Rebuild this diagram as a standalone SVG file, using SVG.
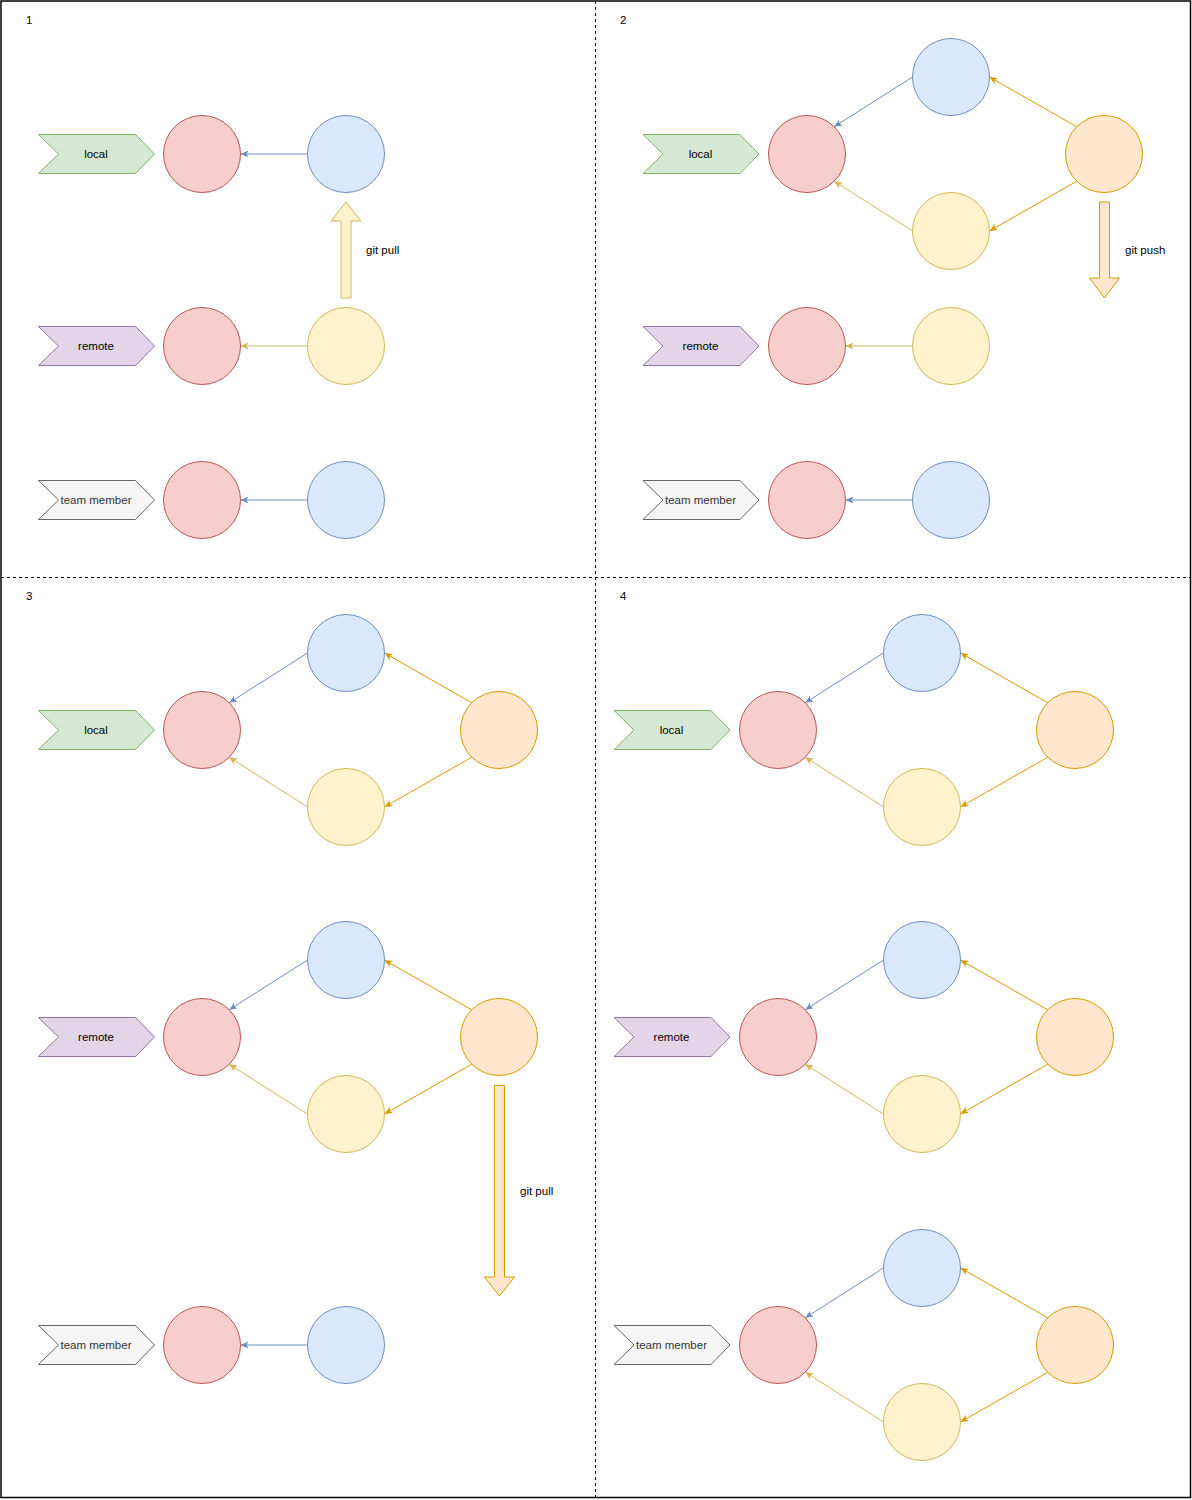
<svg xmlns="http://www.w3.org/2000/svg" width="1192" height="1500" viewBox="0 0 1192 1500">
<style>
text{font-family:"Liberation Sans",Arial,sans-serif;font-size:11.5px;fill:#000}
.lbl{text-anchor:middle}
.tm{fill:#333333}
.red{fill:#f8cecc;stroke:#b85450;stroke-width:1}
.blue{fill:#dae8fc;stroke:#6c8ebf;stroke-width:1}
.yel{fill:#fff2cc;stroke:#d6b656;stroke-width:1}
.org{fill:#ffe6cc;stroke:#d79b00;stroke-width:1}
.grn{fill:#d5e8d4;stroke:#82b366;stroke-width:1}
.pur{fill:#e1d5e7;stroke:#9673a6;stroke-width:1}
.gry{fill:#f5f5f5;stroke:#666666;stroke-width:1}
.eb{fill:none;stroke:#6c8ebf;stroke-width:1;marker-end:url(#mb)}
.eo{fill:none;stroke:#d79b00;stroke-width:1;marker-end:url(#mo)}
.ey{fill:none;stroke:#d6b656;stroke-width:1;marker-end:url(#my)}
.div{stroke:#000;stroke-width:1;stroke-dasharray:3 3;fill:none}
</style>
<defs>
<symbol id="chev" overflow="visible"><polygon points="0,-19.5 97,-19.5 116,0 97,19.5 0,19.5 20,0"/></symbol>
<marker id="mb" markerUnits="userSpaceOnUse" markerWidth="8" markerHeight="7" refX="8" refY="3.5" orient="auto"><path d="M0,0 L8,3.5 L0,7 L2,3.5 z" fill="#6c8ebf"/></marker>
<marker id="mo" markerUnits="userSpaceOnUse" markerWidth="8" markerHeight="7" refX="8" refY="3.5" orient="auto"><path d="M0,0 L8,3.5 L0,7 L2,3.5 z" fill="#d79b00"/></marker>
<marker id="my" markerUnits="userSpaceOnUse" markerWidth="8" markerHeight="7" refX="8" refY="3.5" orient="auto"><path d="M0,0 L8,3.5 L0,7 L2,3.5 z" fill="#d6b656"/></marker>
</defs>
<rect x="0" y="0" width="1192" height="1500" fill="#fff"/>
<g id="frame">
<rect x="1" y="1" width="1189.5" height="1496.5" fill="none" stroke="#000" stroke-width="1.5"/>
<line class="div" x1="595.5" y1="1" x2="595.5" y2="1497"/>
<line class="div" x1="1" y1="577.5" x2="1190" y2="577.5"/>
<text x="26" y="24">1</text>
<text x="620" y="24">2</text>
<text x="26" y="600">3</text>
<text x="620" y="600">4</text>
</g>

<g id="connectors">
<!-- panel 1 -->
<path class="eb" d="M307.5,154 L240.5,154"/>
<path class="ey" d="M307.5,346 L240.5,346"/>
<path class="eb" d="M307.5,500 L240.5,500"/>
<!-- panel 2 -->
<path class="eb" d="M912.5,77 L834.2,126.8"/>
<path class="eo" d="M1076.8,126.8 L989.5,77"/>
<path class="eo" d="M1076.8,181.2 L989.5,231"/>
<path class="ey" d="M912.5,231 L834.2,181.2"/>
<path class="ey" d="M912.5,346 L845.5,346"/>
<path class="eb" d="M912.5,500 L845.5,500"/>
<!-- panel 3 -->
<path class="eb" d="M307.5,653 L229.2,702.8"/>
<path class="eo" d="M471.8,702.8 L384.5,653"/>
<path class="eo" d="M471.8,757.2 L384.5,807"/>
<path class="ey" d="M307.5,807 L229.2,757.2"/>
<path class="eb" d="M307.5,960 L229.2,1009.8"/>
<path class="eo" d="M471.8,1009.8 L384.5,960"/>
<path class="eo" d="M471.8,1064.2 L384.5,1114"/>
<path class="ey" d="M307.5,1114 L229.2,1064.2"/>
<path class="eb" d="M307.5,1345 L240.5,1345"/>
<!-- panel 4 -->
<path class="eb" d="M883.5,653 L805.2,702.8"/>
<path class="eo" d="M1047.8,702.8 L960.5,653"/>
<path class="eo" d="M1047.8,757.2 L960.5,807"/>
<path class="ey" d="M883.5,807 L805.2,757.2"/>
<path class="eb" d="M883.5,960 L805.2,1009.8"/>
<path class="eo" d="M1047.8,1009.8 L960.5,960"/>
<path class="eo" d="M1047.8,1064.2 L960.5,1114"/>
<path class="ey" d="M883.5,1114 L805.2,1064.2"/>
<path class="eb" d="M883.5,1268 L805.2,1317.8"/>
<path class="eo" d="M1047.8,1317.8 L960.5,1268"/>
<path class="eo" d="M1047.8,1372.2 L960.5,1422"/>
<path class="ey" d="M883.5,1422 L805.2,1372.2"/>
</g>

<!-- panel 1 nodes -->
<g id="p1-local-label"><use href="#chev" x="38.5" y="154" class="grn"/><text class="lbl" x="96" y="158">local</text></g>
<g id="p1-remote-label"><use href="#chev" x="38.5" y="346" class="pur"/><text class="lbl" x="96" y="350">remote</text></g>
<g id="p1-team-label"><use href="#chev" x="38.5" y="500" class="gry"/><text class="lbl tm" x="96" y="504">team member</text></g>
<g id="p1-local-red"><circle class="red" cx="202" cy="154" r="38.5"/></g>
<g id="p1-local-blue"><circle class="blue" cx="346" cy="154" r="38.5"/></g>
<g id="p1-remote-red"><circle class="red" cx="202" cy="346" r="38.5"/></g>
<g id="p1-remote-yellow"><circle class="yel" cx="346" cy="346" r="38.5"/></g>
<g id="p1-team-red"><circle class="red" cx="202" cy="500" r="38.5"/></g>
<g id="p1-team-blue"><circle class="blue" cx="346" cy="500" r="38.5"/></g>
<g id="p1-gitpull"><polygon class="yel" points="341,298 351,298 351,221 361,221 346,202 331,221 341,221"/><text x="366" y="254">git pull</text></g>

<!-- panel 2 nodes -->
<g id="p2-local-label"><use href="#chev" x="643" y="154" class="grn"/><text class="lbl" x="700.5" y="158">local</text></g>
<g id="p2-remote-label"><use href="#chev" x="643" y="346" class="pur"/><text class="lbl" x="700.5" y="350">remote</text></g>
<g id="p2-team-label"><use href="#chev" x="643" y="500" class="gry"/><text class="lbl tm" x="700.5" y="504">team member</text></g>
<g id="p2-local-red"><circle class="red" cx="807" cy="154" r="38.5"/></g>
<g id="p2-local-blue"><circle class="blue" cx="951" cy="77" r="38.5"/></g>
<g id="p2-local-orange"><circle class="org" cx="1104" cy="154" r="38.5"/></g>
<g id="p2-local-yellow"><circle class="yel" cx="951" cy="231" r="38.5"/></g>
<g id="p2-remote-red"><circle class="red" cx="807" cy="346" r="38.5"/></g>
<g id="p2-remote-yellow"><circle class="yel" cx="951" cy="346" r="38.5"/></g>
<g id="p2-team-red"><circle class="red" cx="807" cy="500" r="38.5"/></g>
<g id="p2-team-blue"><circle class="blue" cx="951" cy="500" r="38.5"/></g>
<g id="p2-gitpush"><polygon class="org" points="1099.5,202 1109.5,202 1109.5,278 1119.5,278 1104.5,298 1089.5,278 1099.5,278"/><text x="1125" y="254">git push</text></g>

<!-- panel 3 nodes -->
<g id="p3-local-label"><use href="#chev" x="38.5" y="730" class="grn"/><text class="lbl" x="96" y="734">local</text></g>
<g id="p3-remote-label"><use href="#chev" x="38.5" y="1037" class="pur"/><text class="lbl" x="96" y="1041">remote</text></g>
<g id="p3-team-label"><use href="#chev" x="38.5" y="1345" class="gry"/><text class="lbl tm" x="96" y="1349">team member</text></g>
<g id="p3-local-red"><circle class="red" cx="202" cy="730" r="38.5"/></g>
<g id="p3-local-blue"><circle class="blue" cx="346" cy="653" r="38.5"/></g>
<g id="p3-local-orange"><circle class="org" cx="499" cy="730" r="38.5"/></g>
<g id="p3-local-yellow"><circle class="yel" cx="346" cy="807" r="38.5"/></g>
<g id="p3-remote-red"><circle class="red" cx="202" cy="1037" r="38.5"/></g>
<g id="p3-remote-blue"><circle class="blue" cx="346" cy="960" r="38.5"/></g>
<g id="p3-remote-orange"><circle class="org" cx="499" cy="1037" r="38.5"/></g>
<g id="p3-remote-yellow"><circle class="yel" cx="346" cy="1114" r="38.5"/></g>
<g id="p3-team-red"><circle class="red" cx="202" cy="1345" r="38.5"/></g>
<g id="p3-team-blue"><circle class="blue" cx="346" cy="1345" r="38.5"/></g>
<g id="p3-gitpull"><polygon class="org" points="494.5,1085.5 504.5,1085.5 504.5,1277 514.5,1277 499.5,1296 484.5,1277 494.5,1277"/><text x="520" y="1195">git pull</text></g>

<!-- panel 4 nodes -->
<g id="p4-local-label"><use href="#chev" x="614" y="730" class="grn"/><text class="lbl" x="671.5" y="734">local</text></g>
<g id="p4-remote-label"><use href="#chev" x="614" y="1037" class="pur"/><text class="lbl" x="671.5" y="1041">remote</text></g>
<g id="p4-team-label"><use href="#chev" x="614" y="1345" class="gry"/><text class="lbl tm" x="671.5" y="1349">team member</text></g>
<g id="p4-local-red"><circle class="red" cx="778" cy="730" r="38.5"/></g>
<g id="p4-local-blue"><circle class="blue" cx="922" cy="653" r="38.5"/></g>
<g id="p4-local-orange"><circle class="org" cx="1075" cy="730" r="38.5"/></g>
<g id="p4-local-yellow"><circle class="yel" cx="922" cy="807" r="38.5"/></g>
<g id="p4-remote-red"><circle class="red" cx="778" cy="1037" r="38.5"/></g>
<g id="p4-remote-blue"><circle class="blue" cx="922" cy="960" r="38.5"/></g>
<g id="p4-remote-orange"><circle class="org" cx="1075" cy="1037" r="38.5"/></g>
<g id="p4-remote-yellow"><circle class="yel" cx="922" cy="1114" r="38.5"/></g>
<g id="p4-team-red"><circle class="red" cx="778" cy="1345" r="38.5"/></g>
<g id="p4-team-blue"><circle class="blue" cx="922" cy="1268" r="38.5"/></g>
<g id="p4-team-orange"><circle class="org" cx="1075" cy="1345" r="38.5"/></g>
<g id="p4-team-yellow"><circle class="yel" cx="922" cy="1422" r="38.5"/></g>
</svg>
